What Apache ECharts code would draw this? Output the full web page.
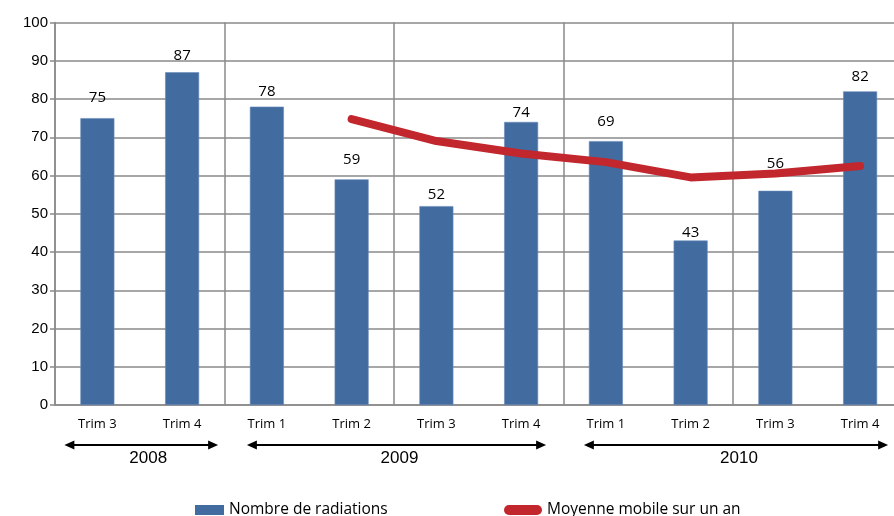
<!DOCTYPE html>
<html>
<head>
<meta charset="utf-8">
<script src="https://cdn.jsdelivr.net/npm/echarts@6/dist/echarts.min.js"></script>
<style>
html, body { margin: 0; padding: 0; background: #fff; }
#main { width: 894px; height: 516px; }
</style>
</head>
<body>
<div id="main"></div>
<script>
// trimestres
var categories = ['Trim 3', 'Trim 4', 'Trim 1', 'Trim 2', 'Trim 3', 'Trim 4', 'Trim 1', 'Trim 2', 'Trim 3', 'Trim 4'];
var radiations = [75, 87, 78, 59, 52, 74, 69, 43, 56, 82];
// moyenne mobile sur 4 trimestres
var moyenne = [null, null, null, 74.75, 69, 65.75, 63.5, 59.5, 60.5, 62.5];
var yTicks = [0, 10, 20, 30, 40, 50, 60, 70, 80, 90, 100];
// annees : premier et dernier trimestre
var years = ['2008', '2009', '2010'];
var yearFrom = [0, 2, 6];
var yearTo = [1, 5, 9];

var gridColor = '#8a8a8a';
// ecart des etiquettes au-dessus des barres (deplacees a la main dans l'original)
var labelDist = [12.5, 8.5, 7.5, 12, 3.5, 1.5, 11.5, 0.5, 20, 7.5];

var chart = echarts.init(document.getElementById('main'));

var barData = radiations.map(function (v, i) {
    return { value: v, label: { distance: labelDist[i] } };
});

var everyOther = function (index) { return index % 2 === 0; };

var option = {
    animation: false,
    grid: {
        left: 55, top: 22.5, width: 847.5, height: 382.5,
        containLabel: false, outerBoundsMode: 'none'
    },
    legend: [{
        left: 190, top: 497,
        itemWidth: 29, itemHeight: 10, icon: 'rect',
        itemStyle: { borderWidth: 0 },
        textStyle: { fontFamily: 'Open Sans', fontSize: 15.5, color: '#000' },
        data: ['Nombre de radiations']
    }, {
        left: 499, top: 497,
        itemWidth: 38, itemHeight: 10,
        icon: 'path://M5,0 L33,0 A5,5 0 0 1 33,10 L5,10 A5,5 0 0 1 5,0 Z',
        textStyle: { fontFamily: 'Open Sans', fontSize: 15.5, color: '#000' },
        data: ['Moyenne mobile sur un an']
    }],
    xAxis: {
        type: 'category',
        data: categories,
        boundaryGap: true,
        axisLine: { lineStyle: { color: gridColor, width: 1.5 } },
        axisTick: { interval: everyOther, length: 6, lineStyle: { color: gridColor, width: 1.5 } },
        splitLine: { show: true, interval: everyOther, lineStyle: { color: gridColor, width: 1.5 } },
        axisLabel: { interval: 0, margin: 13, fontFamily: 'Open Sans', fontSize: 13, color: '#000' }
    },
    yAxis: {
        type: 'value',
        min: yTicks[0], max: yTicks[yTicks.length - 1], interval: 10,
        axisLine: { show: true, lineStyle: { color: gridColor, width: 1.5 } },
        axisTick: { show: true, length: 5, lineStyle: { color: gridColor, width: 1.5 } },
        splitLine: { lineStyle: { color: gridColor, width: 1.5 } },
        axisLabel: { margin: 7, fontFamily: 'Liberation Sans', fontSize: 15, color: '#000' }
    },
    series: [{
        name: 'Nombre de radiations',
        type: 'bar',
        data: barData,
        barWidth: 34,
        itemStyle: { color: '#426ba0', borderColor: '#6a8cba', borderWidth: 0.6 },
        label: {
            show: true, position: 'top',
            fontFamily: 'Open Sans', fontSize: 15, color: '#000'
        }
    }, {
        name: 'Moyenne mobile sur un an',
        type: 'line',
        data: moyenne,
        symbol: 'none',
        color: '#c1272d',
        lineStyle: { color: '#c1272d', width: 8, cap: 'round', join: 'round' }
    }]
};
chart.setOption(option);

// fleches des annees sous l'axe
var graphics = [];
var arrowY = 445;
var padL = [33, 20, 22];
var padR = [36, 25, 28];
for (var i = 0; i < years.length; i++) {
    var x0 = chart.convertToPixel({ xAxisIndex: 0 }, yearFrom[i]) - padL[i];
    var x1 = chart.convertToPixel({ xAxisIndex: 0 }, yearTo[i]) + padR[i];
    graphics.push({
        type: 'line',
        shape: { x1: x0 + 8, y1: arrowY, x2: x1 - 8, y2: arrowY },
        style: { stroke: '#000', lineWidth: 2 }
    });
    graphics.push({
        type: 'polygon',
        shape: { points: [[x0, arrowY], [x0 + 10, arrowY - 4.5], [x0 + 10, arrowY + 4.5]] },
        style: { fill: '#000' }
    });
    graphics.push({
        type: 'polygon',
        shape: { points: [[x1, arrowY], [x1 - 10, arrowY - 4.5], [x1 - 10, arrowY + 4.5]] },
        style: { fill: '#000' }
    });
    graphics.push({
        type: 'text',
        x: (x0 + x1) / 2 + (i == 0 ? 7 : 3), y: 458,
        style: {
            text: years[i], fill: '#000', font: '17px "Liberation Sans"',
            align: 'center', verticalAlign: 'middle'
        }
    });
}
chart.setOption({ graphic: graphics });
</script>
</body>
</html>
